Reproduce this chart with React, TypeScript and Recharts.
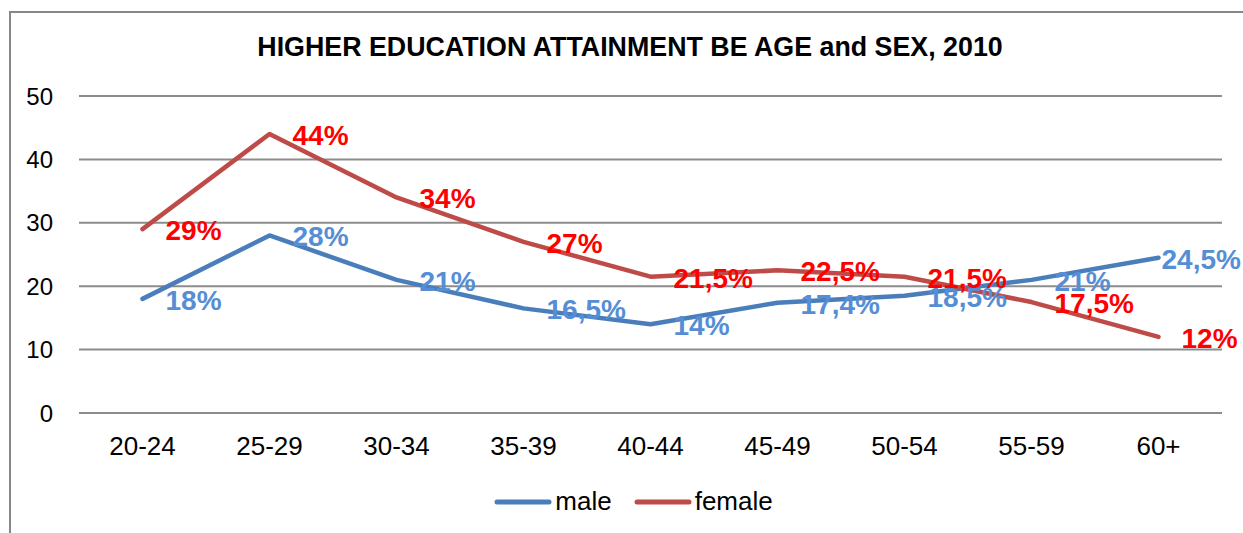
import { LineChart, Line, XAxis, YAxis, CartesianGrid, LabelList, Legend } from 'recharts';

const AGE_GROUPS = ['20-24', '25-29', '30-34', '35-39', '40-44', '45-49', '50-54', '55-59', '60+'];
const MALE = [18, 28, 21, 16.5, 14, 17.4, 18.5, 21, 24.5];
const FEMALE = [29, 44, 34, 27, 21.5, 22.5, 21.5, 17.5, 12];
const Y_TICKS = [0, 10, 20, 30, 40, 50];
const TITLE = 'HIGHER EDUCATION ATTAINMENT BE AGE and SEX, 2010';

const SERIES = [
    { key: 'male', name: 'male', line: '#4A7EBB', label: '#558ED5' },
    { key: 'female', name: 'female', line: '#BE4B48', label: '#FF0000' },
];

const data = AGE_GROUPS.map((age, i) => ({ age, male: MALE[i], female: FEMALE[i] }));

// decimal comma, like the original
const fmt = (v: any) => `${String(v).replace('.', ',')}%`;

const FONT = '"Liberation Sans", Arial, sans-serif';
const CHART_W = 1243;

// label to the right of the point, pulled back in if it would run off the edge
const makeLabel = (color: string) => (props: any) => {
    const { x, y, value } = props;
    const text = fmt(value);
    const approxW = text.length * 16.3;
    let lx = x + 23;
    if (lx + approxW > CHART_W - 1) lx = x + 3;
    return (
        <text x={lx} y={y + 11} fill={color} fontSize={28} fontWeight="bold" fontFamily={FONT}>
            {text}
        </text>
    );
};

const LegendContent = () => (
    <div style={{ display: 'flex', justifyContent: 'center', alignItems: 'center', fontFamily: FONT, fontSize: 26, paddingLeft: 46 }}>
        {SERIES.map((s) => (
            <div key={s.key} style={{ display: 'flex', alignItems: 'center', marginRight: 22 }}>
                <svg width={58} height={10} style={{ marginRight: 3 }}>
                    <line x1={3} y1={5} x2={55} y2={5} stroke={s.line} strokeWidth={5} strokeLinecap="round" />
                </svg>
                <span style={{ color: '#000' }}>{s.name}</span>
            </div>
        ))}
    </div>
);

export default function App() {
    return (
        <div style={{ position: 'absolute', left: 0, top: 0, width: CHART_W, height: 533, overflow: 'hidden', background: '#fff' }}>
            {/* frame of the chart area, cut at right and bottom */}
            <div style={{ position: 'absolute', left: 9, top: 11, width: 1300, height: 600, border: '2px solid #878787' }} />
            <div style={{ position: 'absolute', left: 0, top: 32, width: 1260, textAlign: 'center', fontFamily: FONT, fontWeight: 'bold', fontSize: 26.8, lineHeight: '30px' }}>
                {TITLE}
            </div>
            <LineChart width={CHART_W} height={533} data={data} margin={{ top: 96, right: 21, left: 0, bottom: 60 }} style={{ position: 'absolute', left: 0, top: 0 }}>
                <CartesianGrid vertical={false} stroke="#8C8C8C" strokeWidth={2} />
                <XAxis
                    dataKey="age"
                    height={60}
                    padding={{ left: 63.5, right: 63.5 }}
                    axisLine={false}
                    tickLine={false}
                    tickSize={0}
                    tickMargin={24}
                    tick={{ fill: '#000', fontSize: 26, fontFamily: FONT }}
                />
                <YAxis
                    width={79}
                    domain={[0, 50]}
                    ticks={Y_TICKS}
                    axisLine={false}
                    tickLine={false}
                    tickSize={0}
                    tickMargin={26}
                    tick={{ fill: '#000', fontSize: 24, fontFamily: FONT }}
                />
                <Legend verticalAlign="middle" content={<LegendContent />} wrapperStyle={{ top: 486, left: 0, width: CHART_W }} />
                {SERIES.map((s) => (
                    <Line
                        key={s.key}
                        dataKey={s.key}
                        name={s.name}
                        type="linear"
                        stroke={s.line}
                        strokeWidth={4.5}
                        strokeLinecap="round"
                        strokeLinejoin="round"
                        dot={false}
                        activeDot={false}
                        isAnimationActive={false}
                    >
                        <LabelList dataKey={s.key} content={makeLabel(s.label)} />
                    </Line>
                ))}
            </LineChart>
        </div>
    );
}
